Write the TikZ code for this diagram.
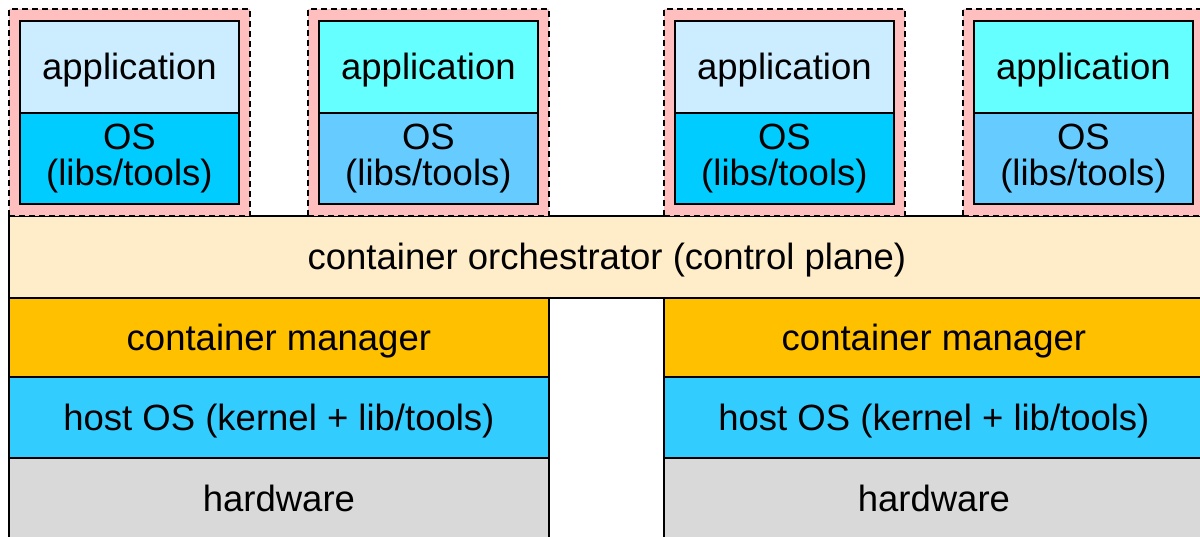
\documentclass[tikz,border=0pt]{standalone}
\usepackage{fontspec}
\setmainfont{Liberation Sans}
\definecolor{pinkbg}{HTML}{FFBFBF}
\definecolor{apppale}{HTML}{CCECFF}
\definecolor{appcyan}{HTML}{66FFFF}
\definecolor{osdeep}{HTML}{00CCFF}
\definecolor{ossky}{HTML}{66CCFF}
\definecolor{orchbg}{HTML}{FFECC9}
\definecolor{mgrbg}{HTML}{FFC000}
\definecolor{hostbg}{HTML}{33CCFF}
\definecolor{hwbg}{HTML}{D9D9D9}
\tikzset{
  layer/.style={draw=black, line width=1.8pt, anchor=north west, inner sep=0pt,
    font=\fontsize{36.5}{36}\selectfont, align=center},
  oneline/.style={layer, text height=33pt, text depth=7.7pt},
  ctr/.style={draw=black, fill=pinkbg, line width=1.5pt, dash pattern=on 6pt off 4pt,
    anchor=north west, inner sep=0pt, minimum width=241pt, minimum height=207pt},
}
\begin{document}
\begin{tikzpicture}[x=1pt,y=-1pt]
\useasboundingbox (0,0) rectangle (1200,536);
\clip (0,0) rectangle (1200,536);
\fill[white] (0,0) rectangle (1200,536);

% orchestrator spanning both hosts
\node[oneline, fill=orchbg, minimum width=1196pt, minimum height=82pt] (orch) at (8,215)
  {container orchestrator (control plane)};

% left host stack
\node[oneline, fill=mgrbg, minimum width=540pt, minimum height=80pt] (mgrL) at (8,297) {container manager};
\node[oneline, fill=hostbg, minimum width=540pt, minimum height=81pt] (hostL) at (8,376) {host OS (kernel + lib/tools)};
\node[oneline, fill=hwbg, minimum width=540pt, minimum height=81pt] (hwL) at (8,457) {hardware};

% right host stack
\node[oneline, fill=mgrbg, minimum width=540pt, minimum height=80pt] (mgrR) at (663,297) {container manager};
\node[oneline, fill=hostbg, minimum width=540pt, minimum height=81pt] (hostR) at (663,376) {host OS (kernel + lib/tools)};
\node[oneline, fill=hwbg, minimum width=540pt, minimum height=81pt] (hwR) at (663,457) {hardware};

% containers: dashed frame with application and OS layers
\foreach \i/\x/\appc/\osc in {1/8/apppale/osdeep, 2/307/appcyan/ossky, 3/663/apppale/osdeep, 4/962/appcyan/ossky}{
  \node[ctr] (c\i) at (\x,8) {};
  \node[oneline, fill=\appc, minimum width=219pt, minimum height=92pt] (app\i) at (\x+11,20) {application};
  \node[layer, fill=\osc, minimum width=219pt, minimum height=91pt] (os\i) at (\x+11,112)
    {OS\\(libs/tools)};
}
\end{tikzpicture}
\end{document}
